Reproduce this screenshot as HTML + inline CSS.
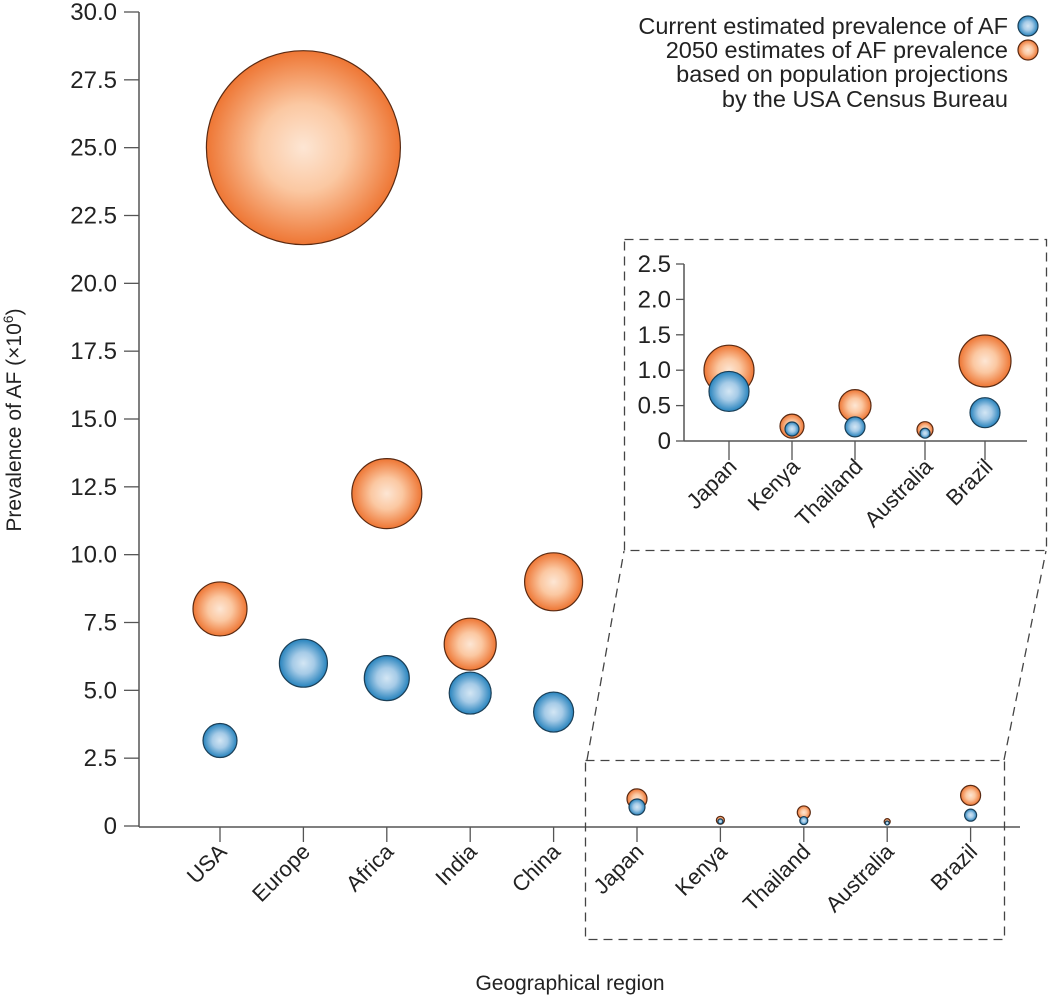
<!DOCTYPE html>
<html><head><meta charset="utf-8"><style>
html,body{margin:0;padding:0;background:#fff;}
svg{display:block;font-family:"Liberation Sans",sans-serif;}
</style></head><body>
<svg id="chart" width="1050" height="997" viewBox="0 0 1050 997">
<defs>
<radialGradient id="gOr" cx="50%" cy="50%" r="50%"><stop offset="0" stop-color="#fde6d4"/><stop offset="0.45" stop-color="#fbc8a2"/><stop offset="1" stop-color="#ee7634"/></radialGradient>
<radialGradient id="gBl" cx="50%" cy="50%" r="50%"><stop offset="0" stop-color="#d3e6f4"/><stop offset="0.45" stop-color="#a6cbe7"/><stop offset="1" stop-color="#2783bd"/></radialGradient>
</defs>
<g id="main"></g>
<g id="inset"></g>
<g id="deco">
<rect x="585.5" y="760.5" width="419" height="179" fill="none" stroke="#444" stroke-width="1.3" stroke-dasharray="9,6"/>
<rect x="624.5" y="239.5" width="422" height="311" fill="none" stroke="#444" stroke-width="1.3" stroke-dasharray="9,6"/>
<line x1="587" y1="760" x2="624" y2="551" stroke="#444" stroke-width="1.3" stroke-dasharray="9,6"/>
<line x1="1004" y1="760" x2="1046" y2="551" stroke="#444" stroke-width="1.3" stroke-dasharray="9,6"/>
</g>
<g font-size="23.5" fill="#222" text-anchor="end">
<text x="1008" y="34">Current estimated prevalence of AF</text>
<circle cx="1028" cy="26" r="10" fill="url(#gBl)" stroke="#1b3f57" stroke-width="1.2"/>
<text x="1008" y="58">2050 estimates of AF prevalence</text>
<circle cx="1028" cy="50" r="10" fill="url(#gOr)" stroke="#5a2a12" stroke-width="1.2"/>
<text x="1008" y="82">based on population projections</text>
<text x="1008" y="107">by the USA Census Bureau</text>
</g>
<text x="0" y="0" transform="translate(21,420) rotate(-90)" text-anchor="middle" font-size="21" fill="#222">Prevalence of AF (×10<tspan dy="-8" font-size="14">6</tspan><tspan dy="8">)</tspan></text>
<text x="570" y="990" text-anchor="middle" font-size="21" fill="#222">Geographical region</text>
</svg>
<script>
const categories=["USA","Europe","Africa","India","China","Japan","Kenya","Thailand","Australia","Brazil"];
const currentValues=[3.15,6.0,5.45,4.9,4.2,0.7,0.17,0.2,0.11,0.4];
const futureValues=[8.0,25.0,12.25,6.7,9.0,1.0,0.21,0.5,0.16,1.13];
const currentSize=[17,24,22.5,21,20,8,2.5,4,2,6];
const futureSize=[27,97,35,26,29,10,4,6.5,3,10];
const mainTicks=["0","2.5","5.0","7.5","10.0","12.5","15.0","17.5","20.0","22.5","25.0","27.5","30.0"];
const insetCategories=["Japan","Kenya","Thailand","Australia","Brazil"];
const insetCurrent=[0.7,0.17,0.2,0.11,0.4];
const insetFuture=[1.0,0.21,0.5,0.16,1.13];
const insetCurrentSize=[20,7,10,5,15];
const insetFutureSize=[25,12,16,8,26];
const insetTicks=["0","0.5","1.0","1.5","2.0","2.5"];
const insetCatX=[729,792,855,925,985];

const NS="http://www.w3.org/2000/svg";
function mk(parent,tag,attrs){const e=document.createElementNS(NS,tag);for(const k in attrs)e.setAttribute(k,attrs[k]);parent.appendChild(e);return e;}

const yMain=v=>826-v*(814/30);
const xMain=i=>220+i*83.4;
const gm=document.getElementById('main');
let ax=mk(gm,'line',{x1:139,y1:12,x2:139,y2:827,stroke:'#555','stroke-width':1.5});


ax=mk(gm,'line',{x1:139,y1:827,x2:1020,y2:827,stroke:'#555','stroke-width':1.5});


mainTicks.forEach((t,i)=>{
  const y=yMain(parseFloat(t));
  const l=mk(gm,'line',{x1:124,y1:y,x2:139,y2:y,stroke:'#555','stroke-width':1.3});
  
  
  const tx=mk(gm,'text',{x:117,y:y+8,'text-anchor':'end','font-size':24,fill:'#222'});
  tx.textContent=t;
  
  
});
categories.forEach((c,i)=>{
  const x=xMain(i);
  const l=mk(gm,'line',{x1:x,y1:827,x2:x,y2:842,stroke:'#555','stroke-width':1.3});
  
  
  const tx=mk(gm,'text',{x:0,y:0,'text-anchor':'end','font-size':22,fill:'#222',transform:`translate(${x+8},${853}) rotate(-45)`});
  tx.textContent=c;
  
  
});
categories.forEach((c,i)=>{
  const x=xMain(i);
  const f=mk(gm,'circle',{cx:x,cy:yMain(futureValues[i]),r:futureSize[i],fill:'url(#gOr)',stroke:'#5a2a12','stroke-width':1.2});
  
  
  const b=mk(gm,'circle',{cx:x,cy:yMain(currentValues[i]),r:currentSize[i],fill:'url(#gBl)',stroke:'#1b3f57','stroke-width':1.2});
  
  
});

const yIn=v=>441-v*(177/2.5);
const gi=document.getElementById('inset');
ax=mk(gi,'line',{x1:684,y1:264,x2:684,y2:441,stroke:'#555','stroke-width':1.5});


ax=mk(gi,'line',{x1:684,y1:441,x2:1027,y2:441,stroke:'#555','stroke-width':1.5});


insetTicks.forEach(t=>{
  const y=yIn(parseFloat(t));
  const l=mk(gi,'line',{x1:676,y1:y,x2:684,y2:y,stroke:'#555','stroke-width':1.3});
  
  
  const tx=mk(gi,'text',{x:671,y:y+8,'text-anchor':'end','font-size':24,fill:'#222'});
  tx.textContent=t;
  
  
});
insetCategories.forEach((c,i)=>{
  const x=insetCatX[i];
  const l=mk(gi,'line',{x1:x,y1:441,x2:x,y2:460,stroke:'#555','stroke-width':1.3});
  
  
  const tx=mk(gi,'text',{x:0,y:0,'text-anchor':'end','font-size':22,fill:'#222',transform:`translate(${x+9},${468}) rotate(-45)`});
  tx.textContent=c;
  
  
  const f=mk(gi,'circle',{cx:x,cy:yIn(insetFuture[i]),r:insetFutureSize[i],fill:'url(#gOr)',stroke:'#5a2a12','stroke-width':1.2});
  
  
  const b=mk(gi,'circle',{cx:x,cy:yIn(insetCurrent[i]),r:insetCurrentSize[i],fill:'url(#gBl)',stroke:'#1b3f57','stroke-width':1.2});
  
  
});
</script>
</body></html>
